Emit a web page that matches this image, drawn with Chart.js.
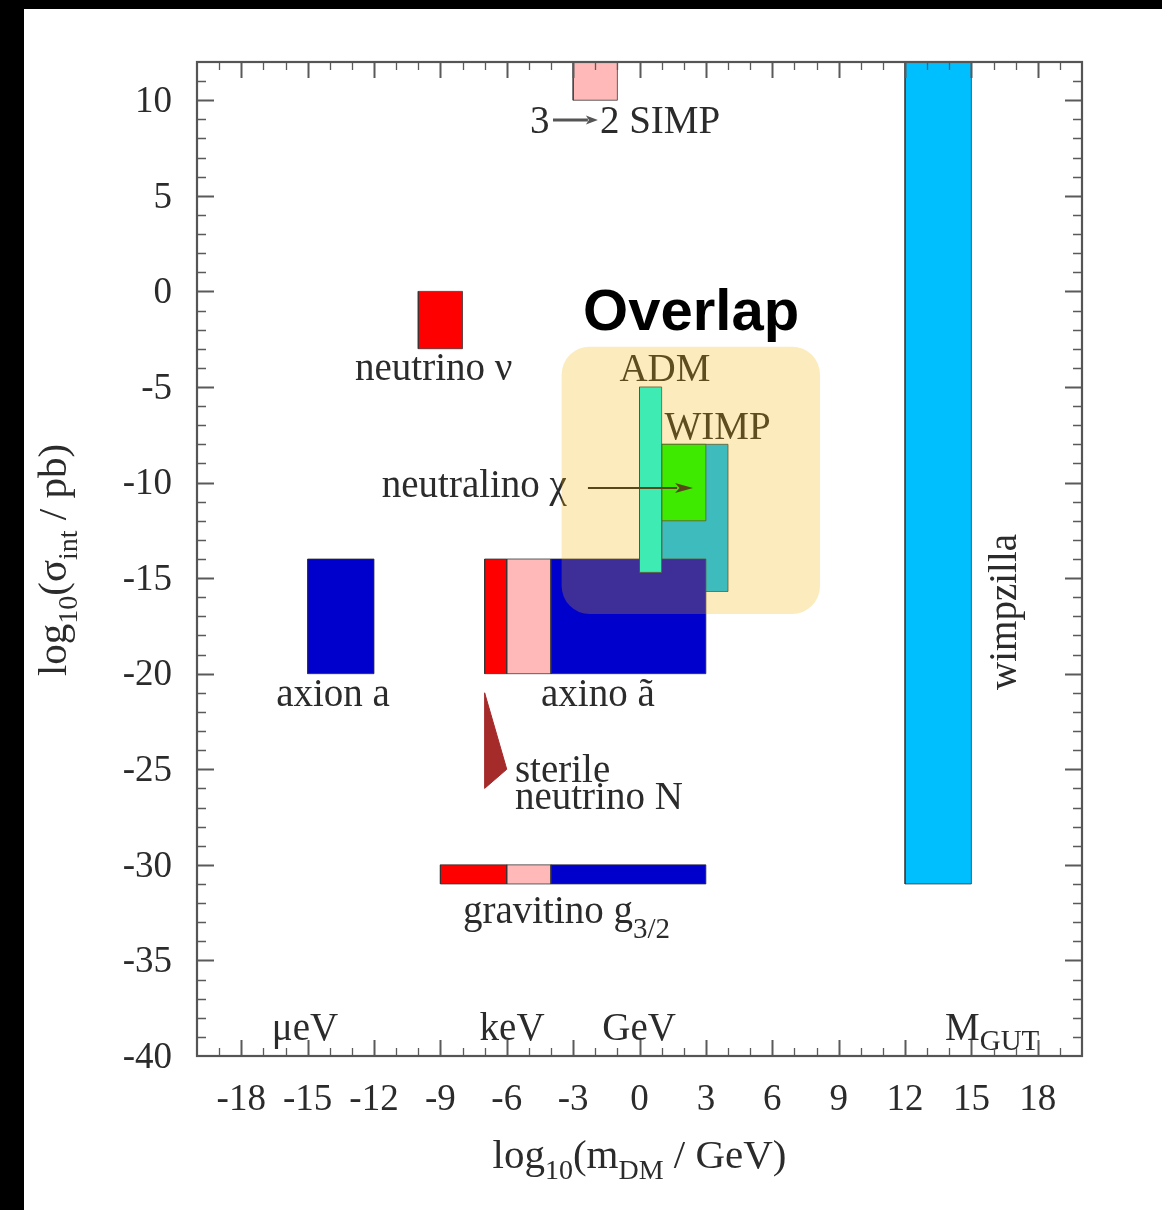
<!DOCTYPE html>
<html><head><meta charset="utf-8">
<style>html,body{margin:0;padding:0;background:#000;overflow:hidden}canvas{display:block}</style>
<script src="https://cdn.jsdelivr.net/npm/chart.js@4.4.1/dist/chart.umd.min.js"></script>
</head><body>
<canvas id="c" width="1162" height="1210"></canvas>
<script>
// ---------------- data (log10 units) ----------------
const xTickValues = [-18, -15, -12, -9, -6, -3, 0, 3, 6, 9, 12, 15, 18];
const yTickValues = [10, 5, 0, -5, -10, -15, -20, -25, -30, -35, -40];
const regionNames = ['wimpzilla', '3→2 SIMP', 'neutrino ν', 'axion a', 'neutralino χ',
  'axino (hot)', 'axino (warm)', 'axino (cold)', 'WIMP', 'ADM',
  'gravitino (hot)', 'gravitino (warm)', 'gravitino (cold)'];
const massLow   = [12, -3, -10, -15, 1, -7, -6, -4, 1, 0, -9, -6, -4];
const massHigh  = [15, -1, -8, -12, 4, -6, -4, 3, 3, 1, -6, -4, 3];
const sigmaLow  = [-31, 10, -3, -20, -15.7, -20, -20, -20, -12, -14.7, -31, -31, -31];
const sigmaHigh = [12, 12, 0, -14, -8, -14, -14, -14, -8, -5, -30, -30, -30];
const sterileMass  = [-7, -6, -7];
const sterileSigma = [-21, -25, -26];

// ---------------- styles ----------------
const regionColors = ['#00BFFF', '#FFB9B9', '#FF0000', '#0000CC', '#00BFFF',
  '#FF0000', '#FFB9B9', '#0000CC', '#00FF00', '#00FFF0',
  '#FF0000', '#FFB9B9', '#0000CC'];
const SERIF = '"Liberation Serif", "Times New Roman", serif';
const TXT = '#2b2b2b';

// annotation anchors (data coordinates)
const textLabels = [
  {t: 'neutrino ν', x: -9.3, y: -4.64, a: 'center'},
  {t: 'ADM', x: 1.15, y: -4.69, a: 'center'},
  {t: 'WIMP', x: 3.53, y: -7.72, a: 'center'},
  {t: 'neutralino χ', x: -3.28, y: -10.76, a: 'right'},
  {t: 'axion a', x: -13.85, y: -21.69, a: 'center'},
  {t: 'axino ã', x: -1.88, y: -21.69, a: 'center'},
  {t: 'sterile', x: -5.63, y: -25.67, a: 'left'},
  {t: 'neutrino N', x: -5.63, y: -27.08, a: 'left'},
  {t: 'μeV', x: -15.12, y: -39.16, a: 'center'},
  {t: 'keV', x: -5.76, y: -39.16, a: 'center'},
  {t: 'GeV', x: -0.02, y: -39.16, a: 'center'}
];

const datasets = regionNames.map((name, i) => ({
  label: name,
  data: [
    {x: massLow[i], y: sigmaLow[i]},
    {x: massHigh[i], y: sigmaLow[i]},
    {x: massHigh[i], y: sigmaHigh[i]},
    {x: massLow[i], y: sigmaHigh[i]},
    {x: massLow[i], y: sigmaLow[i]}
  ],
  showLine: true, fill: 'shape', tension: 0,
  backgroundColor: regionColors[i],
  borderColor: 'rgba(50,50,50,0.75)', borderWidth: 1,
  pointRadius: 0, pointHoverRadius: 0,
  order: regionNames.length - i + 1
}));
datasets.push({
  label: 'sterile neutrino N',
  data: sterileMass.map((m, i) => ({x: m, y: sterileSigma[i]})).concat([{x: sterileMass[0], y: sterileSigma[0]}]),
  showLine: true, fill: 'shape', tension: 0,
  backgroundColor: '#A52A2A', borderColor: '#A52A2A', borderWidth: 1,
  pointRadius: 0, pointHoverRadius: 0, order: 0
});

function richWidth(ctx, parts, fMain, fSub) {
  let w = 0;
  for (const p of parts) { ctx.font = p.sub ? fSub : fMain; w += ctx.measureText(p.t).width; }
  return w;
}
function drawRich(ctx, parts, x, y, fMain, fSub, subDy, align) {
  const w = richWidth(ctx, parts, fMain, fSub);
  let cx = align === 'center' ? x - w / 2 : (align === 'right' ? x - w : x);
  ctx.textAlign = 'left';
  ctx.textBaseline = 'alphabetic';
  for (const p of parts) {
    ctx.font = p.sub ? fSub : fMain;
    ctx.fillText(p.t, cx, y + (p.sub ? subDy : 0));
    cx += ctx.measureText(p.t).width;
  }
}
function arrow(ctx, x1, y, x2, color, lw, hl, hw) {
  ctx.save();
  ctx.strokeStyle = color; ctx.fillStyle = color; ctx.lineWidth = lw;
  ctx.beginPath(); ctx.moveTo(x1, y); ctx.lineTo(x2 - hl + 2, y); ctx.stroke();
  ctx.beginPath(); ctx.moveTo(x2, y); ctx.lineTo(x2 - hl, y - hw / 2); ctx.lineTo(x2 - hl * 0.75, y); ctx.lineTo(x2 - hl, y + hw / 2); ctx.closePath(); ctx.fill();
  ctx.restore();
}

const decor = {
  id: 'decor',
  beforeDraw(chart) {
    const ctx = chart.ctx;
    ctx.save();
    ctx.fillStyle = '#000'; ctx.fillRect(0, 0, chart.width, chart.height);
    ctx.fillStyle = '#fff'; ctx.fillRect(24, 9, chart.width - 24, chart.height - 9);
    ctx.restore();
  },
  afterDatasetsDraw(chart) {
    const ctx = chart.ctx, X = chart.scales.x, Y = chart.scales.y;
    const px = v => X.getPixelForValue(v), py = v => Y.getPixelForValue(v);
    const fMain = '39px ' + SERIF, fSub = '29px ' + SERIF;
    ctx.save();
    ctx.fillStyle = TXT;
    ctx.textBaseline = 'alphabetic';
    ctx.font = fMain;
    for (const L of textLabels) {
      ctx.textAlign = L.a;
      ctx.fillText(L.t, px(L.x), py(L.y));
    }
    // 3 -> 2 SIMP
    ctx.textAlign = 'left';
    ctx.fillText('3', px(-4.95), py(8.29));
    ctx.fillText('2 SIMP', px(-1.79), py(8.29));
    arrow(ctx, px(-3.91), py(8.97), px(-1.88), '#555', 3, 12, 9);
    // neutralino arrow
    arrow(ctx, px(-2.33), py(-10.29), px(2.42), '#222', 2, 18, 10);
    // gravitino g_3/2
    drawRich(ctx, [{t: 'gravitino g'}, {t: '3/2', sub: true}], px(-7.98), py(-33.04), fMain, fSub, 15, 'left');
    // M_GUT
    drawRich(ctx, [{t: 'M'}, {t: 'GUT', sub: true}], px(13.81), py(-39.16), fMain, fSub, 10, 'left');
    // wimpzilla rotated
    ctx.save();
    ctx.translate(px(17.02), py(-16.77));
    ctx.rotate(-Math.PI / 2);
    ctx.textAlign = 'center';
    ctx.font = fMain;
    ctx.fillText('wimpzilla', 0, 0);
    ctx.restore();
    // Overlap highlight box
    const x0 = px(-3.52), x1 = px(8.16), y0 = py(-2.89), y1 = py(-16.88);
    ctx.fillStyle = 'rgba(240,179,0,0.26)';
    ctx.beginPath();
    ctx.roundRect(x0, y0, x1 - x0, y1 - y0, 28);
    ctx.fill();
    ctx.fillStyle = '#000';
    ctx.font = 'bold 58px "Liberation Sans", Arial, sans-serif';
    ctx.textAlign = 'left';
    ctx.fillText('Overlap', px(-2.55), py(-2.02));
    ctx.restore();
  },
  afterDraw(chart) {
    const ctx = chart.ctx, a = chart.chartArea, X = chart.scales.x, Y = chart.scales.y;
    ctx.save();
    // ticks
    ctx.strokeStyle = '#5a5a5a';
    for (let v = -19; v <= 19; v++) {
      const major = v % 3 === 0;
      const L = major ? 16 : 8;
      const x = Math.round(X.getPixelForValue(v)) + 0.5;
      ctx.lineWidth = major ? 2 : 1.3;
      ctx.beginPath();
      ctx.moveTo(x, a.bottom); ctx.lineTo(x, a.bottom - L);
      ctx.moveTo(x, a.top); ctx.lineTo(x, a.top + L);
      ctx.stroke();
    }
    for (let v = -39; v <= 11; v++) {
      const major = v % 5 === 0;
      const L = major ? 17 : 9;
      const y = Math.round(Y.getPixelForValue(v)) + 0.5;
      ctx.lineWidth = major ? 2 : 1.3;
      ctx.beginPath();
      ctx.moveTo(a.left, y); ctx.lineTo(a.left + L, y);
      ctx.moveTo(a.right, y); ctx.lineTo(a.right - L, y);
      ctx.stroke();
    }
    // frame
    ctx.strokeStyle = '#555';
    ctx.lineWidth = 2.2;
    ctx.strokeRect(a.left, a.top, a.right - a.left, a.bottom - a.top);
    // axis titles
    ctx.fillStyle = TXT;
    const fMain = '41px ' + SERIF, fSub = '28px ' + SERIF;
    drawRich(ctx, [{t: 'log'}, {t: '10', sub: true}, {t: '(m'}, {t: 'DM', sub: true}, {t: ' / GeV)'}],
      (a.left + a.right) / 2, 1168, fMain, fSub, 11, 'center');
    ctx.save();
    ctx.translate(66, (a.top + a.bottom) / 2 + 1);
    ctx.rotate(-Math.PI / 2);
    drawRich(ctx, [{t: 'log'}, {t: '10', sub: true}, {t: '(σ'}, {t: 'int', sub: true}, {t: ' / pb)'}],
      0, 0, fMain, fSub, 11, 'center');
    ctx.restore();
    ctx.restore();
  }
};

new Chart(document.getElementById('c'), {
  type: 'scatter',
  data: {datasets},
  options: {
    responsive: false, animation: false, devicePixelRatio: 1, events: [],
    layout: {padding: {left: 0, top: 62, right: 80, bottom: 0}},
    plugins: {legend: {display: false}, tooltip: {enabled: false}, title: {display: false}},
    scales: {
      x: {
        type: 'linear', min: -20, max: 20,
        afterBuildTicks: s => { s.ticks = xTickValues.map(v => ({value: v})); },
        afterFit: s => { s.height = 154; },
        ticks: {font: {family: SERIF, size: 37}, color: TXT, padding: 22, maxRotation: 0, autoSkip: false, callback: v => String(v)},
        grid: {display: false, drawTicks: false}, border: {display: false}
      },
      y: {
        type: 'linear', min: -40, max: 12,
        afterBuildTicks: s => { s.ticks = yTickValues.map(v => ({value: v})); },
        afterFit: s => { s.width = 197; },
        ticks: {font: {family: SERIF, size: 37}, color: TXT, padding: 25, labelOffset: 2, autoSkip: false, callback: v => String(v)},
        grid: {display: false, drawTicks: false}, border: {display: false}
      }
    }
  },
  plugins: [decor]
});
</script>
</body></html>
